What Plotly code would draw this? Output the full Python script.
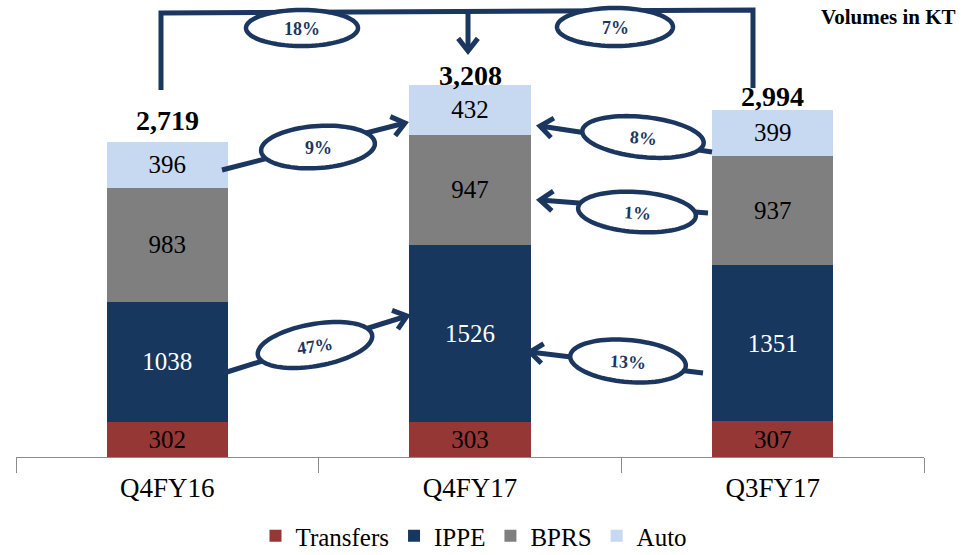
import math
import plotly.graph_objects as go

categories = ["Q4FY16", "Q4FY17", "Q3FY17"]
transfers = [302, 303, 307]
ippe = [1038, 1526, 1351]
bprs = [983, 947, 937]
auto = [396, 432, 399]
totals = [2719, 3208, 2994]

series = [
    ("Transfers", transfers, "#953735", "black"),
    ("IPPE", ippe, "#17375E", "white"),
    ("BPRS", bprs, "#7F7F7F", "black"),
    ("Auto", auto, "#C6D9F1", "black"),
]

W, H = 973, 555
ML, MR, MT, MB = 16, 49, 0, 98
PW, PH = W - ML - MR, H - MT - MB
SERIF = "Liberation Serif"
NAVY = "#1B375F"

fig = go.Figure()
for name, vals, color, tcolor in series:
    fig.add_trace(go.Bar(
        name=name, x=categories, y=vals, marker=dict(color=color, line=dict(width=0)),
        text=[str(v) for v in vals], textposition="inside", insidetextanchor="middle",
        textangle=0, constraintext="none",
        textfont=dict(family=SERIF, size=25, color=tcolor),
        width=0.4,
    ))


def px(x, y):
    return (x - ML) / PW, (MT + PH - y) / PH


def path(points, close=False):
    s = ""
    for i, (x, y) in enumerate(points):
        X, Y = px(x, y)
        s += ("M" if i == 0 else "L") + f"{X:.5f},{Y:.5f} "
    if close:
        s += "Z"
    return s


shapes = []


def add_line(points, width=5):
    shapes.append(dict(type="path", xref="paper", yref="paper", path=path(points),
                       line=dict(color=NAVY, width=width), layer="above"))


def add_arrow(a, b, width=5, head=16, ang=38):
    add_line([a, b], width)
    dx, dy = a[0] - b[0], a[1] - b[1]
    L = math.hypot(dx, dy)
    ux, uy = dx / L, dy / L
    pts = []
    for s in (1, -1):
        t = math.radians(ang * s)
        rx = ux * math.cos(t) - uy * math.sin(t)
        ry = ux * math.sin(t) + uy * math.cos(t)
        pts.append((b[0] + rx * head, b[1] + ry * head))
    add_line([pts[0], b, pts[1]], width)


def add_ellipse(cx, cy, rx, ry, tilt):
    th = math.radians(tilt)
    pts = []
    for i in range(90):
        t = 2 * math.pi * i / 90
        x = cx + rx * math.cos(t) * math.cos(th) - ry * math.sin(t) * math.sin(th)
        y = cy + rx * math.cos(t) * math.sin(th) + ry * math.sin(t) * math.cos(th)
        pts.append((x, y))
    shapes.append(dict(type="path", xref="paper", yref="paper", path=path(pts, True),
                       fillcolor="white", line=dict(color=NAVY, width=4.5), layer="above"))


annotations = []


def add_pct(cx, cy, txt, tilt):
    X, Y = px(cx, cy)
    annotations.append(dict(xref="paper", yref="paper", x=X, y=Y, text=f"<b>{txt}</b>",
                            xanchor="center", yanchor="middle",
                            showarrow=False, textangle=tilt,
                            font=dict(family=SERIF, size=18, color=NAVY)))


# top bracket
add_line([(161, 90), (161, 13), (753, 10), (753, 88)])
add_arrow((468, 12), (468, 51))
# lower arrows
add_arrow((222, 170), (405, 123))
add_arrow((227, 372), (407, 316))
add_arrow((712, 152), (540, 126))
add_arrow((708, 213), (540, 200))
add_arrow((703, 373), (530, 352))

ellipses = [
    (302, 28, 56, 18, 0, "18%", 0),
    (615, 27, 58, 19, 0, "7%", 0),
    (318, 147, 57, 21, -4, "9%", 0),
    (315, 345, 58, 21, -10, "47%", -8),
    (643, 137, 61, 20, 6, "8%", 4),
    (637, 212, 59, 20, 4, "1%", 3),
    (628, 361, 58, 21, 5, "13%", 3),
]
for cx, cy, rx, ry, tilt, txt, ttilt in ellipses:
    add_ellipse(cx, cy, rx, ry, tilt)
    add_pct(cx, cy + 1, txt, ttilt)

# totals
total_shift = [4, -8, -4]
for cat, tot, sh in zip(categories, totals, total_shift):
    annotations.append(dict(x=cat, y=tot, xref="x", yref="y", text=f"<b>{tot:,}</b>",
                            showarrow=False, yanchor="bottom", yshift=sh,
                            font=dict(family=SERIF, size=28, color="black")))

X, Y = px(958, 17)
annotations.append(dict(xref="paper", yref="paper", x=X, y=Y, xanchor="right", yanchor="middle",
                        text="<b>Volumes in KT</b>", showarrow=False,
                        font=dict(family=SERIF, size=21, color="black")))

lx, ly = px(474, 536)
fig.update_layout(
    width=W, height=H, barmode="stack",
    margin=dict(l=ML, r=MR, t=MT, b=MB, autoexpand=False),
    plot_bgcolor="white", paper_bgcolor="white",
    showlegend=True,
    legend=dict(orientation="h", x=lx, y=ly, xanchor="center", yanchor="middle",
                font=dict(family=SERIF, size=25, color="black"), traceorder="normal",
                itemwidth=30, bgcolor="rgba(0,0,0,0)"),
    xaxis=dict(showline=True, linecolor="#8C8C8C", linewidth=1, ticks="outside",
               tickson="boundaries", ticklen=15, tickcolor="#8C8C8C",
               ticklabelstandoff=7, automargin=False,
               tickfont=dict(family=SERIF, size=27, color="black"), showgrid=False,
               range=[-0.5, 2.5]),
    yaxis=dict(visible=False, range=[0, 3940], showgrid=False),
    shapes=shapes, annotations=annotations,
    bargap=0.6,
)
fig.write_html("out.html")
